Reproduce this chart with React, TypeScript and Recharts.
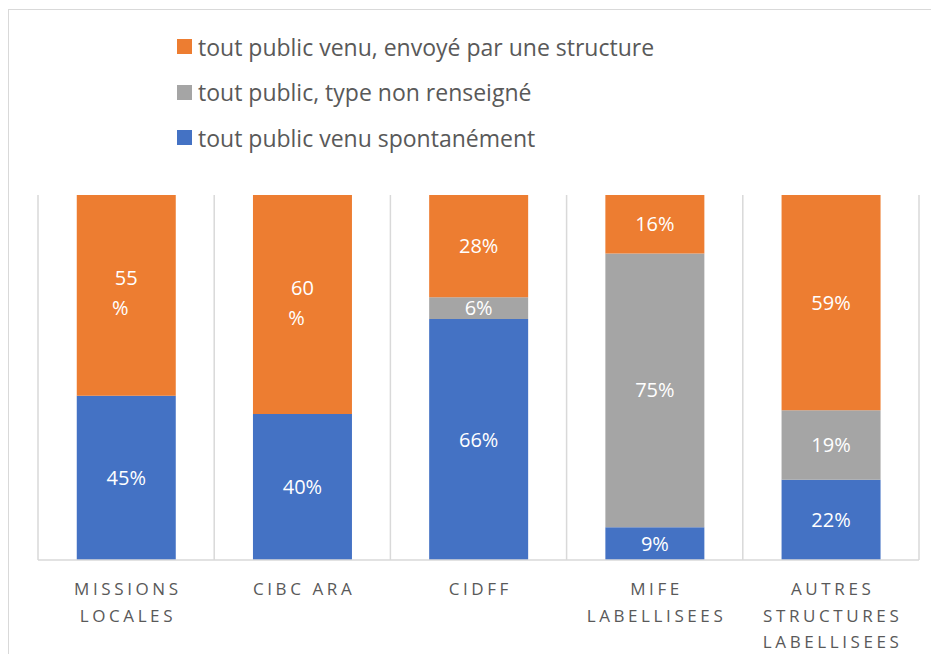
import { Bar, BarChart, CartesianGrid, LabelList, Legend, XAxis, YAxis } from "recharts"

const categories = ["MISSIONS\nLOCALES", "CIBC ARA", "CIDFF", "MIFE\nLABELLISEES", "AUTRES\nSTRUCTURES\nLABELLISEES"]
const spontane = [45, 40, 66, 9, 22]
const nonRenseigne = [0, 0, 6, 75, 19]
const envoye = [55, 60, 28, 16, 59]
// Excel wrapped the orange label onto two lines in these two bars
const wrappedOrange = ["MISSIONS\nLOCALES", "CIBC ARA"]
const legendOrder = ["envoye", "nonRenseigne", "spontane"]

const data = categories.map((name, i) => ({
  name,
  spontane: spontane[i],
  nonRenseigne: nonRenseigne[i],
  envoye: envoye[i],
}))

const FONT = "'Open Sans', sans-serif"
const TEXT = "#595959"
const GRID = "#d9d9d9"

function AxisTick({ x, y, payload }: any) {
  const lines = String(payload.value).split("\n")
  return (
    <text x={x} y={y + 27} textAnchor="middle" fill={TEXT} fontSize={17} fontFamily={FONT} letterSpacing={3.6}>
      {lines.map((l, i) => (
        <tspan key={i} x={x + 1.8} dy={i === 0 ? 0 : 26.5}>
          {l}
        </tspan>
      ))}
    </text>
  )
}

function makeLabel(wrapIn: string[]) {
  return (props: any) => {
    const { x, y, width, height, value, index } = props
    if (!value) return null
    const cx = x + width / 2
    const cy = y + height / 2
    if (wrapIn.includes(categories[index])) {
      return (
        <text x={cx} y={cy} textAnchor="middle" fill="#fff" fontSize={20} fontFamily={FONT}>
          <tspan x={cx} dy={-10}>{value}</tspan>
          <tspan x={cx - 6} dy={30}>%</tspan>
        </text>
      )
    }
    return (
      <text x={cx} y={cy} dy={7} textAnchor="middle" fill="#fff" fontSize={20} fontFamily={FONT}>
        {`${value}%`}
      </text>
    )
  }
}

function LegendBox({ payload }: any) {
  const items = [...(payload || [])].sort(
    (a: any, b: any) => legendOrder.indexOf(a.dataKey) - legendOrder.indexOf(b.dataKey)
  )
  return (
    <div style={{ fontFamily: FONT, fontSize: 23, color: TEXT }}>
      {items.map((it: any) => (
        <div key={it.value} style={{ display: "flex", alignItems: "center", height: 45.5, whiteSpace: "nowrap" }}>
          <span style={{ width: 15, height: 15, background: it.color, marginRight: 6, display: "inline-block", flex: "none" }} />
          {it.value}
        </div>
      ))}
    </div>
  )
}

export default function App() {
  return (
    <div style={{ position: "relative", width: 939, height: 662, margin: -8, overflow: "hidden", background: "#fff" }}>
      <div
        style={{
          position: "absolute",
          left: 8,
          top: 9,
          width: 960,
          height: 700,
          border: `1.5px solid ${GRID}`,
          boxSizing: "border-box",
        }}
      />
      <BarChart
        width={939}
        height={662}
        data={data}
        barCategoryGap="22%"
        margin={{ top: 195, right: 20, bottom: 0, left: 38 }}
        style={{ position: "absolute", left: 0, top: 0 }}
      >
        <CartesianGrid
          horizontal={false}
          stroke={GRID}
          strokeWidth={1.5}
          verticalCoordinatesGenerator={({ offset }: any) =>
            [0, 1, 2, 3, 4, 5].map((i) => offset.left + (i * offset.width) / categories.length)
          }
        />
        <XAxis
          dataKey="name"
          interval={0}
          height={102}
          axisLine={{ stroke: GRID, strokeWidth: 1.5 }}
          tickLine={false}
          tick={<AxisTick />}
        />
        <YAxis hide domain={[0, 100]} />
        <Legend
          verticalAlign="top"
          content={<LegendBox />}
          wrapperStyle={{ top: 24, left: 177, width: "auto", height: 0, overflow: "visible" }}
        />
        <Bar dataKey="spontane" name="tout public venu spontanément" stackId="a" fill="#4472C4" isAnimationActive={false}>
          <LabelList dataKey="spontane" content={makeLabel([])} />
        </Bar>
        <Bar dataKey="nonRenseigne" name="tout public, type non renseigné" stackId="a" fill="#A5A5A5" isAnimationActive={false}>
          <LabelList dataKey="nonRenseigne" content={makeLabel([])} />
        </Bar>
        <Bar dataKey="envoye" name="tout public venu, envoyé par une structure" stackId="a" fill="#ED7D31" isAnimationActive={false}>
          <LabelList dataKey="envoye" content={makeLabel(wrappedOrange)} />
        </Bar>
      </BarChart>
    </div>
  )
}
